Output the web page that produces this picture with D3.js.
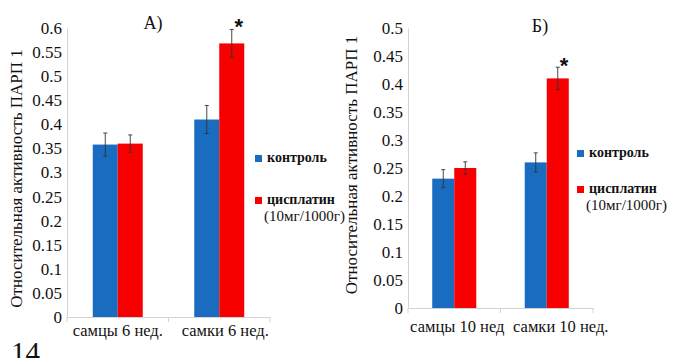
<!DOCTYPE html>
<html>
<head>
<meta charset="utf-8">
<script src="https://cdn.jsdelivr.net/npm/d3@7"></script>
<style>
  body { margin: 0; background: #fff; }
  svg text { font-family: 'Liberation Serif', 'Times New Roman', 'DejaVu Serif', serif; fill: #111; }
</style>
</head>
<body>
<div id="chart"></div>
<script>
// data
var series = ["контроль", "цисплатин"];

var categoriesA = ["самцы 6 нед.", "самки 6 нед."];
var controlA = [0.358, 0.41];
var cisplatinA = [0.36, 0.568];
var errControlA = [0.024, 0.029];
var errCisplatinA = [0.018, 0.029];
var ticksA = [0, 0.05, 0.1, 0.15, 0.2, 0.25, 0.3, 0.35, 0.4, 0.45, 0.5, 0.55, 0.6];

var categoriesB = ["самцы 10 нед", "самки 10 нед."];
var controlB = [0.231, 0.26];
var cisplatinB = [0.25, 0.41];
var errControlB = [0.016, 0.017];
var errCisplatinB = [0.011, 0.02];
var ticksB = [0, 0.05, 0.1, 0.15, 0.2, 0.25, 0.3, 0.35, 0.4, 0.45, 0.5];

var colors = { "контроль": "#1a6cc0", "цисплатин": "#f70000" };
var serif = "'Liberation Serif', 'Times New Roman', serif";

var svg = d3.select("#chart")
    .append("svg")
    .attr("width", 680)
    .attr("height", 358)
    .attr("font-family", serif);

// build one panel
function drawPanel(opt) {
    var g = svg.append("g")
        .attr("transform", `translate(${opt.left}, ${opt.top})`);

    var rows = opt.categories.map(function(c, i) {
        return {
            cat: c,
            vals: [
                { key: series[0], v: opt.control[i], e: opt.errControl[i] },
                { key: series[1], v: opt.cisplatin[i], e: opt.errCisplatin[i] }
            ]
        };
    });

    var x0 = d3.scaleBand()
        .domain(opt.categories)
        .range([0, opt.width]);

    var x1 = d3.scaleBand()
        .domain(series)
        .range([0, x0.bandwidth()])
        .paddingOuter(opt.outer);

    var y = d3.scaleLinear()
        .domain([0, opt.ymax])
        .range([opt.height, 0]);

    // y axis
    var yAxis = g.append("g")
        .call(d3.axisLeft(y).tickValues(opt.ticks).tickSize(0).tickPadding(5)
            .tickFormat(d => String(+d.toFixed(2))));
    yAxis.attr("font-family", null).attr("font-size", null);
    yAxis.select(".domain").attr("stroke", "#d4d4d4");
    yAxis.selectAll("text")
        .style("font-size", "17px")
        .attr("fill", "#111");

    // x axis
    var xAxis = g.append("g")
        .attr("transform", `translate(0, ${opt.height})`)
        .call(d3.axisBottom(x0).tickSize(0).tickPadding(opt.xPad));
    xAxis.attr("font-family", null).attr("font-size", null);
    xAxis.select(".domain").attr("stroke", "#d4d4d4");
    xAxis.selectAll("text")
        .style("font-size", "16.5px")
        .attr("dx", (d, i) => opt.labelShift[i])
        .attr("fill", "#111");
    // little tick marks between categories
    g.append("g")
        .selectAll("line")
        .data([0, opt.width / 2, opt.width])
        .enter()
        .append("line")
        .attr("x1", d => d).attr("x2", d => d)
        .attr("y1", opt.height).attr("y2", opt.height + 5)
        .attr("stroke", "#d4d4d4");

    // bars
    var groups = g.append("g")
        .selectAll("g")
        .data(rows)
        .enter()
        .append("g")
        .attr("transform", d => `translate(${x0(d.cat)}, 0)`);

    groups.selectAll("rect")
        .data(d => d.vals)
        .enter()
        .append("rect")
        .attr("x", d => x1(d.key))
        .attr("y", d => y(d.v))
        .attr("width", x1.bandwidth())
        .attr("height", d => opt.height - y(d.v))
        .attr("fill", d => colors[d.key]);

    // error bars
    var eb = groups.selectAll("g.err")
        .data(d => d.vals)
        .enter()
        .append("g")
        .attr("class", "err")
        .attr("transform", d => `translate(${x1(d.key) + x1.bandwidth() / 2}, 0)`)
        .attr("stroke", "#333")
        .attr("stroke-width", 0.9);
    eb.append("line")
        .attr("y1", d => y(d.v + d.e)).attr("y2", d => y(d.v - d.e));
    eb.append("line")
        .attr("x1", -2).attr("x2", 2)
        .attr("y1", d => y(d.v + d.e)).attr("y2", d => y(d.v + d.e));
    eb.append("line")
        .attr("x1", -2).attr("x2", 2)
        .attr("y1", d => y(d.v - d.e)).attr("y2", d => y(d.v - d.e));

    // significance star over the cisplatin bar of females
    var last = rows[1];
    g.append("text")
        .attr("x", x0(last.cat) + x1(series[1]) + x1.bandwidth() * 0.78)
        .attr("y", y(last.vals[1].v + last.vals[1].e) + opt.starDy)
        .attr("text-anchor", "middle")
        .style("font-size", "22px")
        .style("font-weight", "bold")
        .style("font-family", "'Liberation Sans', Arial, sans-serif")
        .text("*");

    // panel title
    g.append("text")
        .attr("x", opt.titleX)
        .attr("y", opt.titleY)
        .attr("text-anchor", "middle")
        .style("font-size", "18px")
        .text(opt.title);

    // y title
    g.append("text")
        .attr("transform", "rotate(-90)")
        .attr("x", -opt.height / 2 + opt.ytDx)
        .attr("y", opt.ytX)
        .attr("text-anchor", "middle")
        .style("font-size", "17px")
        .text("Относительная активность ПАРП 1");

    // legend
    var lg = g.append("g")
        .attr("transform", `translate(${opt.legX}, ${opt.legY})`);
    lg.append("rect")
        .attr("x", 0).attr("y", -7).attr("width", 7).attr("height", 7)
        .attr("fill", colors[series[0]]);
    lg.append("text")
        .attr("x", 12).attr("y", 0)
        .style("font-size", "14px").style("font-weight", "bold")
        .text(series[0]);
    lg.append("rect")
        .attr("x", 0).attr("y", opt.legGap - 7).attr("width", 7).attr("height", 7)
        .attr("fill", colors[series[1]]);
    lg.append("text")
        .attr("x", 12).attr("y", opt.legGap)
        .style("font-size", "14px").style("font-weight", "bold")
        .text(series[1]);
    lg.append("text")
        .attr("x", 9).attr("y", opt.legGap + 17)
        .style("font-size", "15px")
        .text("(10мг/1000г)");
}

drawPanel({
    left: 67, top: 28, width: 203, height: 289,
    categories: categoriesA, control: controlA, cisplatin: cisplatinA,
    errControl: errControlA, errCisplatin: errCisplatinA,
    ymax: 0.6, ticks: ticksA, outer: 1.03, xPad: 7, labelShift: [0, 6],
    title: "А)", titleX: 86, titleY: 1, starDy: 5,
    ytX: -45, ytDx: -6,
    legX: 188, legY: 134, legGap: 42
});

drawPanel({
    left: 408, top: 28, width: 185, height: 280,
    categories: categoriesB, control: controlB, cisplatin: cisplatinB,
    errControl: errControlB, errCisplatin: errCisplatinB,
    ymax: 0.5, ticks: ticksB, outer: 1.1, xPad: 12, labelShift: [3, 14],
    title: "Б)", titleX: 132, titleY: 4, starDy: 6,
    ytX: -51, ytDx: 3,
    legX: 169, legY: 129, legGap: 36
});

// page number at bottom left
svg.append("text")
    .attr("x", 11)
    .attr("y", 362)
    .style("font-size", "29px")
    .text("14");
</script>
</body>
</html>
